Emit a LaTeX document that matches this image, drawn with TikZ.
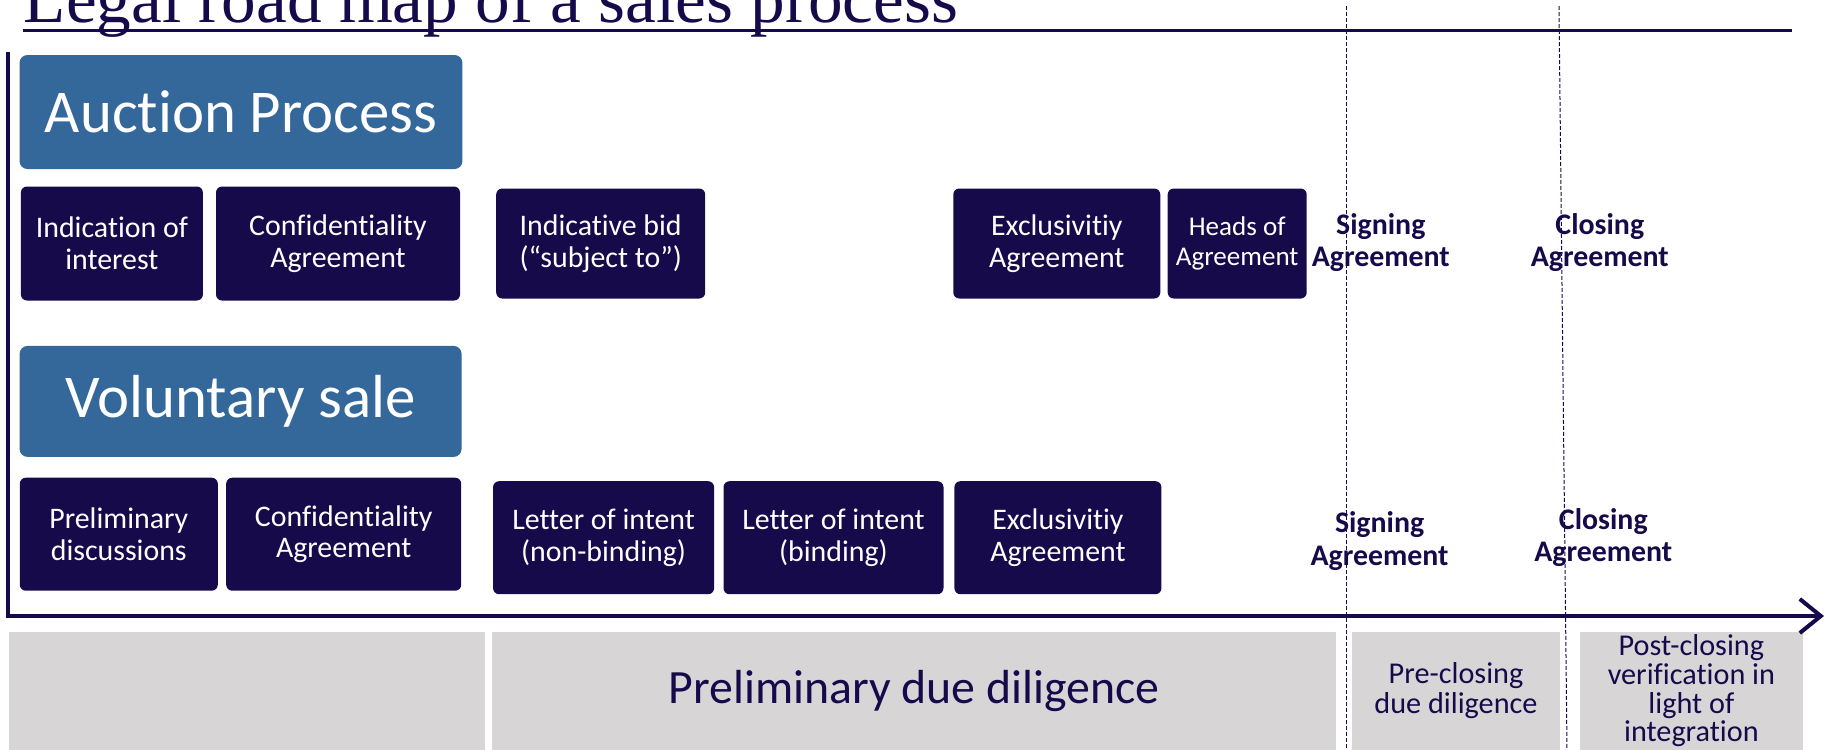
\documentclass[tikz,border=0pt]{standalone}
\usepackage{fontspec}
\setmainfont{Carlito}[Ligatures=NoCommon]
\newfontfamily\titlefont{Liberation Serif}
\usetikzlibrary{arrows.meta,positioning}

\definecolor{navy}{HTML}{170A4B}
\definecolor{steel}{HTML}{34689A}
\definecolor{stone}{HTML}{D8D5D7}

\begin{document}
\begin{tikzpicture}[
x=0.1mm, y=-0.1mm,
every node/.style={inner sep=0pt, align=center},
stage/.style={fill=steel, rounded corners=0.8mm, text=white, font=\fontsize{17.3}{20}\selectfont},
doc/.style={fill=navy, rounded corners=0.6mm, text=white, minimum height=11.3mm, font=\fontsize{8.5}{9}\selectfont},
milestone/.style={text=navy, font=\bfseries\fontsize{8.5}{9.2}\selectfont},
phase/.style={fill=stone, text=navy, anchor=north west, minimum height=11.8mm, font=\fontsize{8.6}{8.6}\selectfont},
axis/.style={draw=navy, line width=0.35mm},
cut/.style={draw=navy, line width=0.1mm, dash pattern=on 0.4mm off 0.2mm}
]
\useasboundingbox (0,0) rectangle (1827,749);

\node[anchor=base west, text=navy, font=\titlefont\fontsize{19.7}{22}\selectfont] (title) at (23,22) {Legal road map of a sales process};
\draw[navy, line width=0.25mm] (23,30.5) -- (1792,30.5);

\node[phase, minimum width=47.65mm] (phase start) at (8.2,631) {};
\node[phase, minimum width=84.36mm, font=\fontsize{13.6}{15}\selectfont] (phase dd) at (491.7,631) {Preliminary due diligence};
\node[phase, minimum width=20.74mm] (phase pre) at (1351.6,631) {Pre-closing\\due diligence};
\node[phase, minimum width=22.38mm, font=\fontsize{8.6}{8.2}\selectfont] (phase post) at (1578.8,631) {Post-closing\\verification in\\light of\\integration};

\coordinate (top) at (8,52);
\coordinate (origin) at (8,616);
\coordinate (end) at (1824,616);
\draw[axis, -{Straight Barb[length=2.1mm, width=3.4mm, line width=0.4mm]}] (top) -- (origin) -- (end);

\node[stage, minimum width=44.3mm, minimum height=11.4mm] (auction) at (241,112) {Auction Process};
\node[stage, minimum width=44.2mm, minimum height=11.1mm] (voluntary) at (240.6,401.4) {Voluntary sale};

\node[doc, minimum width=18.2mm, minimum height=11.4mm] (interest) at (111.9,243.5) {Indication of\\interest};
\node[doc, minimum width=24.4mm, minimum height=11.4mm, right=1.17mm of interest] (confid a) {Confidentiality\\Agreement};
\node[doc, minimum width=20.9mm, minimum height=11mm] (bid) at (600.7,243.5) {Indicative bid\\(“subject to”)};
\node[doc, minimum width=20.7mm, minimum height=11mm] (excl a) at (1056.8,243.5) {Exclusivitiy\\Agreement};
\node[doc, minimum width=13.9mm, minimum height=11mm, right=0.6mm of excl a, font=\fontsize{7.7}{8.6}\selectfont] (heads) {Heads of\\Agreement};

\node[doc, minimum width=19.8mm] (talks) at (118.8,534.2) {Preliminary\\discussions};
\node[doc, minimum width=23.5mm, right=0.7mm of talks] (confid b) {Confidentiality\\Agreement};
\node[doc, minimum width=22.1mm] (loi a) at (603.6,537.7) {Letter of intent\\(non-binding)};
\node[doc, minimum width=22mm, right=0.8mm of loi a] (loi b) {Letter of intent\\(binding)};
\node[doc, minimum width=20.7mm, right=0.95mm of loi b] (excl b) {Exclusivitiy\\Agreement};

\node[milestone] (sign a) at (1380.8,242.4) {Signing\\Agreement};
\node[milestone] (close a) at (1599.8,242.4) {Closing\\Agreement};
\node[milestone] (sign b) at (1379.6,541.2) {Signing\\Agreement};
\node[milestone] (close b) at (1603.3,537.7) {Closing\\Agreement};

\draw[cut] (1346,6) -- (1346,749);
\draw[cut] (1559,6) -- (1567,749);
\end{tikzpicture}
\end{document}
